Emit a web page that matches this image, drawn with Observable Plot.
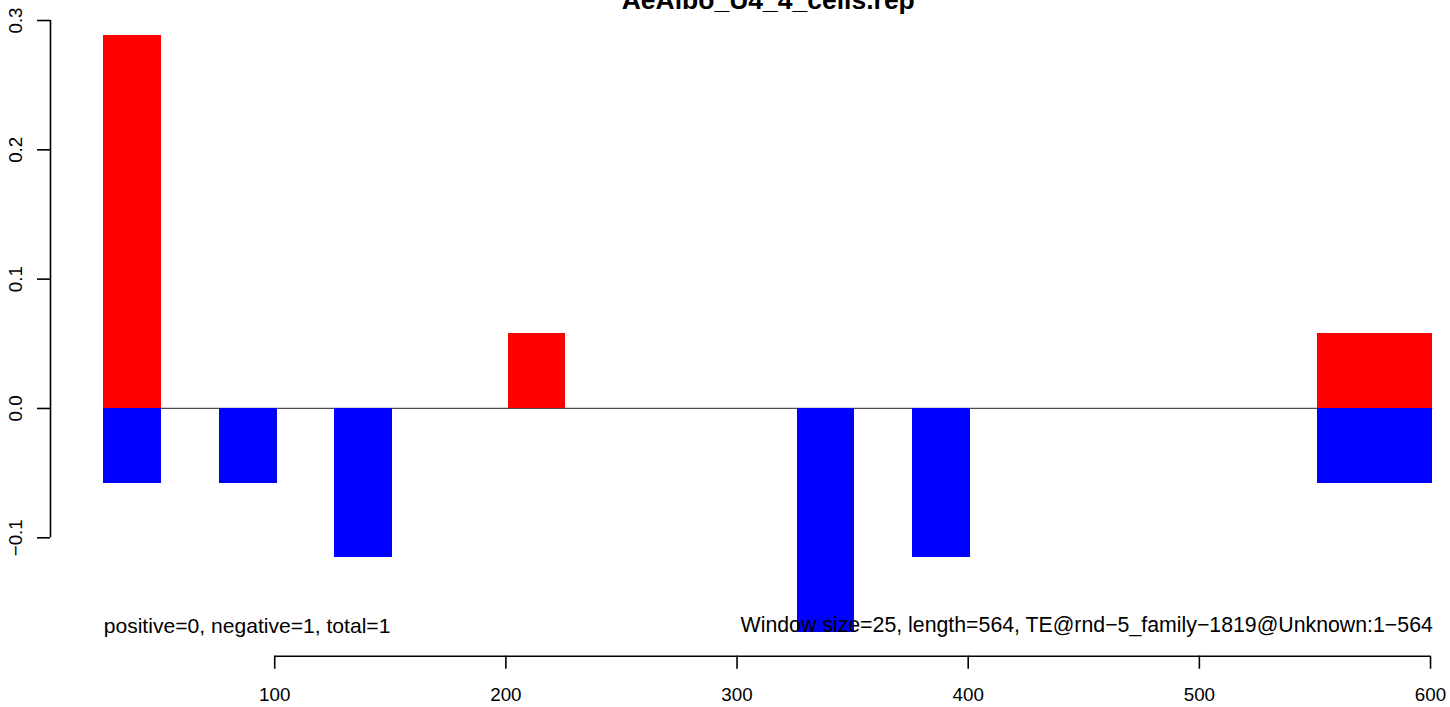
<!DOCTYPE html>
<html><head><meta charset="utf-8">
<script src="https://cdn.jsdelivr.net/npm/d3@7"></script>
<script src="https://cdn.jsdelivr.net/npm/@observablehq/plot@0.6"></script>
<style>html,body{margin:0;padding:0;background:#fff;overflow:hidden}</style>
</head><body><div id="chart"></div>
<script>
const chartTitle = "AeAlbo_U4_4_cells.rep";
const windowSize = 25;
const windowStart = [26, 76, 126, 201, 326, 376, 551, 576];
const positiveValues = [0.2885, 0, 0, 0.0577, 0, 0, 0.0577, 0.0577];
const negativeValues = [-0.0577, -0.0577, -0.1154, 0, -0.1731, -0.1154, -0.0577, -0.0577];
const xTicks = [100, 200, 300, 400, 500, 600];
const yTicks = [-0.1, 0.0, 0.1, 0.2, 0.3];
const leftNote = "positive=0, negative=1, total=1";
const rightNote = "Window size=25, length=564, TE@rnd\u22125_family\u22121819@Unknown:1\u2212564";

const font = "'Liberation Sans', Arial, Helvetica, sans-serif";
const xMin = d3.min(windowStart), xMax = d3.max(windowStart) + windowSize;
const xPad = 0.04 * (xMax - xMin);
const xDomain = [xMin - xPad, xMax + xPad];
const yMin = d3.min(negativeValues), yMax = d3.max(positiveValues);
const yPad = 0.04 * (yMax - yMin);
const yDomain = [yMin - yPad, yMax + yPad];

const rows = windowStart.map((s, i) => ({x1: s, x2: s + windowSize, pos: positiveValues[i], neg: negativeValues[i]}));
const posRows = rows.filter(d => d.pos !== 0);
const negRows = rows.filter(d => d.neg !== 0);
const fmtY = d3.format(".1f");

const W = 1450, H = 707;
const chart = Plot.plot({
  width: W, height: H,
  marginLeft: 50, marginRight: -35.5, marginTop: 11, marginBottom: 51.3,
  style: {fontFamily: font, background: "#fff", color: "#000", overflow: "hidden"},
  x: {domain: xDomain},
  y: {domain: yDomain},
  marks: [
    Plot.ruleY([0], {x1: xMin, x2: xMax, stroke: "#4d4d4d", strokeWidth: 1.2}),
    Plot.rect(posRows, {x1: "x1", x2: "x2", y1: 0, y2: "pos", fill: "#ff0000", shapeRendering: "crispEdges"}),
    Plot.rect(negRows, {x1: "x1", x2: "x2", y1: 0, y2: "neg", fill: "#0000ff", shapeRendering: "crispEdges"}),
    Plot.text([leftNote], {x: xMin, y: yMin, text: d => d, textAnchor: "start", lineAnchor: "bottom", dy: 1, fontSize: 21.1, fill: "#000"}),
    Plot.text([rightNote], {x: xMax, y: yMin, text: d => d, textAnchor: "end", lineAnchor: "bottom", dy: 0, fontSize: 21.3, fill: "#000"}),
    Plot.text([chartTitle], {x: (xDomain[0] + xDomain[1]) / 2, y: yDomain[1], text: d => d, lineAnchor: "bottom", dy: -3, fontSize: 26.5, fontWeight: "bold", fill: "#000"}),
    Plot.axisX(xTicks, {tickSize: 13, strokeWidth: 1.6, tickFormat: () => "", label: null}),
    Plot.text(xTicks, {x: d => d, y: yDomain[0], text: d => String(d), lineAnchor: "bottom", dy: 44.3, fontSize: 18.8, fill: "#000"}),
    Plot.ruleY([yDomain[0]], {x1: d3.min(xTicks), x2: d3.max(xTicks), strokeWidth: 1.6}),
    Plot.axisY(yTicks, {tickSize: 13, strokeWidth: 1.6, tickFormat: () => "", label: null}),
    Plot.text(yTicks, {x: xDomain[0], y: d => d, text: d => fmtY(d), rotate: -90, textAnchor: "middle", lineAnchor: "bottom", dx: -29, fontSize: 18.8, fill: "#000"}),
    Plot.ruleX([xDomain[0]], {y1: d3.min(yTicks), y2: d3.max(yTicks), strokeWidth: 1.6})
  ]
});
document.getElementById("chart").appendChild(chart);
</script></body></html>
